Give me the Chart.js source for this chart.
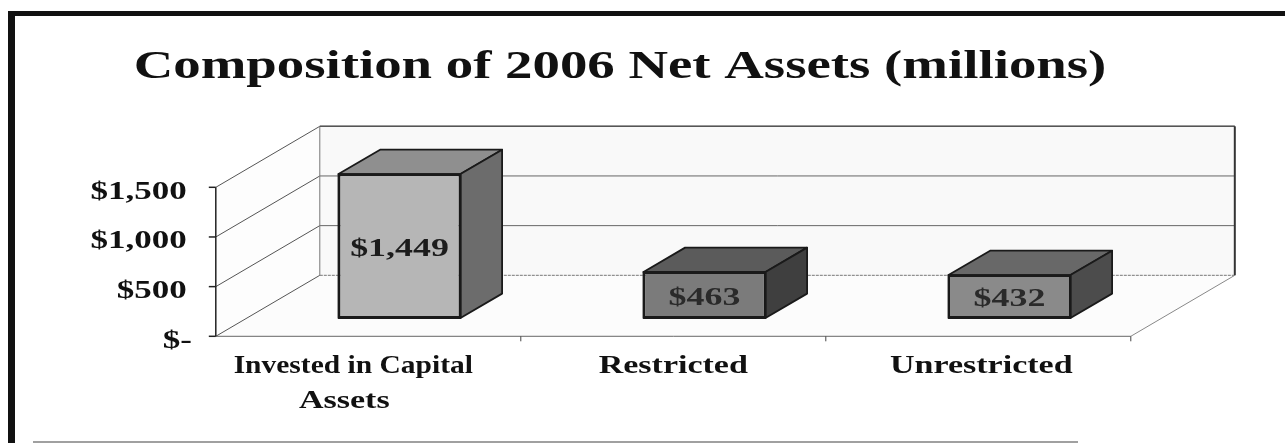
<!DOCTYPE html>
<html><head><meta charset="utf-8">
<script src="https://cdn.jsdelivr.net/npm/chart.js@4.4.1/dist/chart.umd.min.js"></script>
<style>html,body{margin:0;padding:0;background:#fff;overflow:hidden}canvas{display:block}</style>
</head><body>
<canvas id="c" width="1285" height="443"></canvas>
<script>
// ---- data ----
const titleText = "Composition of 2006 Net Assets (millions)";
const categories = [["Invested in Capital", "Assets"], "Restricted", "Unrestricted"];
const netAssets = [1449, 463, 432];
const barLabels = ["$1,449", "$463", "$432"];
const yTickValues = [0, 500, 1000, 1500];
const yTickLabels = ["$-", "$500", "$1,000", "$1,500"];

// ---- styles ----
const frontColors = ["#b6b6b6", "#7b7b7b", "#8a8a8a"];
const topColors = ["#8f8f8f", "#5b5b5b", "#686868"];
const sideColors = ["#6c6c6c", "#3f3f3f", "#4c4c4c"];
const catLabelShift = [[-15, -24], [0], [3]];
const catLabelStretch = [[1.18, 1.36], [1.36], [1.36]];
const FONT = '"Liberation Serif", "Times New Roman", serif';
const DEPTH = {x: 104, y: -61};   // full depth vector of the 3-D box
const BAR_FRONT = 0.3, BAR_BACK = 0.7;

function sText(ctx, t, x, y, align, size, sx, color) {
  ctx.save();
  ctx.font = 'bold ' + size + 'px ' + FONT;
  ctx.fillStyle = color;
  ctx.textAlign = align;
  ctx.textBaseline = 'alphabetic';
  ctx.translate(x, y);
  ctx.scale(sx, 1);
  ctx.fillText(t, 0, 0);
  ctx.restore();
}
function poly(ctx, pts) {
  ctx.beginPath();
  ctx.moveTo(pts[0][0], pts[0][1]);
  for (let i = 1; i < pts.length; i++) ctx.lineTo(pts[i][0], pts[i][1]);
  ctx.closePath();
}
function line(ctx, x1, y1, x2, y2, color, w, dash) {
  ctx.save();
  ctx.strokeStyle = color; ctx.lineWidth = w;
  if (dash) ctx.setLineDash(dash);
  ctx.beginPath(); ctx.moveTo(x1, y1); ctx.lineTo(x2, y2); ctx.stroke();
  ctx.restore();
}

const box3d = {
  id: 'box3d',
  beforeDatasetsDraw(chart) {
    const ctx = chart.ctx, a = chart.chartArea, xs = chart.scales.x, ys = chart.scales.y;
    const f = {x: -BAR_FRONT * DEPTH.x, y: -BAR_FRONT * DEPTH.y};
    const b = {x: (1 - BAR_FRONT) * DEPTH.x, y: (1 - BAR_FRONT) * DEPTH.y};
    const y0 = ys.getPixelForValue(ys.min), yT = ys.getPixelForValue(ys.max);

    // outer frame of the scanned page
    ctx.save();
    ctx.fillStyle = '#111';
    ctx.fillRect(8, 11, 1277, 5);
    ctx.fillRect(8, 11, 7, 432);
    ctx.fillStyle = '#a0a0a0';
    ctx.fillRect(33, 441, 1045, 2);
    ctx.restore();

    // title
    sText(ctx, titleText, 620, 78, 'center', 40, 1.37, '#111');

    // back wall
    ctx.save();
    poly(ctx, [[a.left + b.x, yT + b.y], [a.right + b.x, yT + b.y], [a.right + b.x, y0 + b.y], [a.left + b.x, y0 + b.y]]);
    ctx.fillStyle = '#f9f9f9'; ctx.fill();
    // left wall
    poly(ctx, [[a.left + f.x, yT + f.y], [a.left + b.x, yT + b.y], [a.left + b.x, y0 + b.y], [a.left + f.x, y0 + f.y]]);
    ctx.fillStyle = '#fdfdfd'; ctx.fill();
    // floor
    poly(ctx, [[a.left + f.x, y0 + f.y], [a.right + f.x, y0 + f.y], [a.right + b.x, y0 + b.y], [a.left + b.x, y0 + b.y]]);
    ctx.fillStyle = '#fcfcfc'; ctx.fill();
    ctx.restore();

    // grid lines on back wall and left wall
    yTickValues.forEach(function (v) {
      const py = ys.getPixelForValue(v);
      line(ctx, a.left + f.x, py + f.y, a.left + b.x, py + b.y, '#555', 1);
      line(ctx, a.left + b.x, py + b.y, a.right + b.x, py + b.y, v === 0 ? '#777' : '#666', 1, v === 0 ? [3, 1] : null);
    });
    // back wall edges
    line(ctx, a.left + b.x, yT + b.y, a.left + b.x, y0 + b.y, '#777', 1);
    line(ctx, a.left + b.x, yT + b.y, a.right + b.x, yT + b.y, '#555', 1.5);
    line(ctx, a.right + b.x, yT + b.y, a.right + b.x, y0 + b.y, '#333', 2);
    // floor edges
    line(ctx, a.left + f.x, y0 + f.y, a.right + f.x, y0 + f.y, '#666', 1);
    line(ctx, a.right + f.x, y0 + f.y, a.right + b.x, y0 + b.y, '#888', 1);
    // category boundary ticks
    const cw = (a.right - a.left) / categories.length;
    for (let i = 1; i <= categories.length; i++) {
      const px = a.left + f.x + i * cw;
      line(ctx, px, y0 + f.y, px, y0 + f.y + 5, '#444', 1);
    }
    // front value axis
    const ax = a.left + f.x;
    line(ctx, ax, yT + f.y, ax, y0 + f.y, '#222', 1.5);
    yTickValues.forEach(function (v, i) {
      const py = ys.getPixelForValue(v) + f.y;
      line(ctx, ax - 7, py, ax, py, '#222', 1.5);
      sText(ctx, yTickLabels[i], v === 0 ? ax - 24 : ax - 29, py + 11.5, 'right', 25, 1.4, '#111');
    });
    // category labels
    categories.forEach(function (c, i) {
      const px = xs.getPixelForValue(i) + f.x;
      const lines = Array.isArray(c) ? c : [c];
      lines.forEach(function (t, j) {
        sText(ctx, t, px + catLabelShift[i][j], y0 + f.y + 37 + j * 35, 'center', 25, catLabelStretch[i][j], '#111');
      });
    });
  },
  afterDatasetsDraw(chart) {
    const ctx = chart.ctx;
    const meta = chart.getDatasetMeta(0);
    const dx = (BAR_BACK - BAR_FRONT) * DEPTH.x, dy = (BAR_BACK - BAR_FRONT) * DEPTH.y;
    meta.data.forEach(function (el, i) {
      const p = el.getProps(['x', 'y', 'base', 'width'], true);
      const L = p.x - p.width / 2, R = p.x + p.width / 2, T = p.y, B = p.base;
      ctx.save();
      ctx.lineJoin = 'round';
      ctx.strokeStyle = '#1a1a1a'; ctx.lineWidth = 1.8;
      poly(ctx, [[L, T], [L + dx, T + dy], [R + dx, T + dy], [R, T]]);
      ctx.fillStyle = topColors[i]; ctx.fill(); ctx.stroke();
      poly(ctx, [[R, T], [R + dx, T + dy], [R + dx, B + dy], [R, B]]);
      ctx.fillStyle = sideColors[i]; ctx.fill(); ctx.stroke();
      poly(ctx, [[L, T], [R, T], [R, B], [L, B]]);
      ctx.stroke();
      ctx.restore();
      sText(ctx, barLabels[i], p.x, (T + B) / 2 + 9.5, 'center', 26, 1.38, i === 0 ? '#1c1c1c' : '#2a2a2a');
    });
  }
};

new Chart(document.getElementById('c'), {
  type: 'bar',
  data: {
    labels: categories,
    datasets: [{
      label: 'Net Assets (millions)',
      data: netAssets,
      backgroundColor: frontColors,
      borderColor: '#1a1a1a',
      borderWidth: 2,
      borderSkipped: false,
      barPercentage: 0.4,
      categoryPercentage: 1.0
    }]
  },
  options: {
    responsive: false,
    animation: false,
    devicePixelRatio: 1,
    layout: {padding: {left: 247, right: 123, top: 169, bottom: 125}},
    plugins: {legend: {display: false}, tooltip: {enabled: false}, title: {display: false}},
    scales: {
      x: {display: false},
      y: {display: false, min: 0, max: 1500, ticks: {stepSize: 500}}
    }
  },
  plugins: [box3d]
});
</script>
</body></html>
